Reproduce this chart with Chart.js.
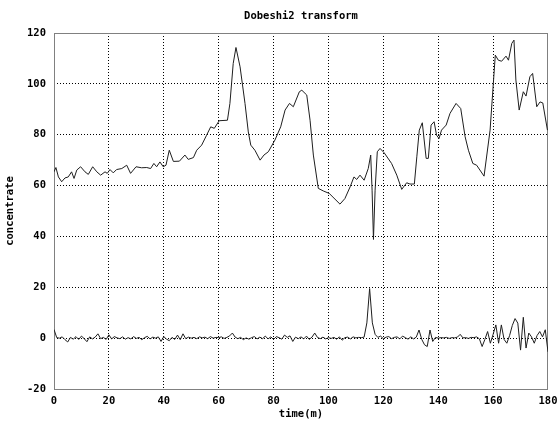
<!DOCTYPE html>
<html>
<head>
<meta charset="utf-8">
<script src="https://cdn.jsdelivr.net/npm/chart.js@4/dist/chart.umd.min.js"></script>
<style>
html, body { margin: 0; padding: 0; background: #fff; }
canvas { display: block; }
</style>
</head>
<body>
<canvas id="grafico" width="560" height="425"></canvas>
<script>
// Señal transformada (tiempo en minutos, concentración)
const tiempos = [
  0, 0.7, 1.6, 2.8, 4, 5.2, 6.4, 7.3, 8.3, 9.7, 11.3, 12.5, 14.1, 15.6, 17, 18.6, 19.4,
  20.4, 21.6, 22.8, 24.7, 26.5, 27.9, 29.9, 31.9, 33.8, 35.2, 36.4, 37.4, 38.6, 39.8,
  40.8, 42, 43.5, 45.7, 47.7, 48.9, 50.8, 52, 53.8, 55.6, 57.1, 58.4, 60.2, 63.2, 64.1,
  65.3, 66.3, 67.8, 69.6, 70.8, 71.7, 73.2, 75.1, 76.5, 78.1, 80.5, 82.6, 84.2, 85.8,
  87.2, 89.4, 90.3, 92.1, 93.3, 94.5, 96.3, 98.1, 100.3, 104.2, 106, 107.9, 109.3,
  110.3, 111.5, 113, 114.5, 115.4, 115.9, 116.4, 117, 117.8, 118.8, 120.3, 123, 124.9,
  126.7, 128.5, 129.7, 131.3, 132.2, 133.1, 134.2, 135.6, 136.4, 137.4, 138.5, 139.4,
  140.3, 141.2, 142.9, 144.3, 146.5, 148.2, 149.8, 151, 152.6, 154, 156.7, 158.9,
  160.8, 161.9, 163.1, 164.7, 165.6, 166.8, 167.6, 168.3, 169.5, 171, 172, 173.4,
  174.4, 175.9, 177.1, 178.1, 179.8
];
const concentrado = [
  65.4, 67.1, 63.4, 61.5, 63, 63.4, 65.4, 62.8, 66.1, 67.4, 65.4, 64.4, 67.4, 65.4, 64.1, 65.4, 64.8,
  66.3, 65, 66.3, 66.7, 68, 64.8, 67.4, 67, 67.1, 66.7, 68.7, 67.4, 69.3, 67.4,
  68, 73.9, 69.5, 69.6, 72, 70.3, 71, 73.9, 75.9, 79.8, 83.1, 82.5, 85.5, 85.7, 92.3,
  108, 114.3, 106.7, 92.3, 81.1, 75.9, 73.9, 70, 72, 73.3, 77.9, 83.1, 89.7, 92.3,
  91, 96.9, 97.5, 95.6, 85.7, 72, 58.9, 57.9, 56.9, 52.7, 54.9, 59.5, 63.4,
  62.4, 64.1, 62.1, 66.7, 72, 58.2, 38.8, 58.2, 73.3, 74.6, 72.9, 68.7, 64.1,
  58.5, 61.1, 60.6, 60.6, 71.3, 81.8, 84.7, 70.7, 70.7, 83.8, 85.1, 79.8,
  78.5, 81.8, 83.8, 88.4, 92.3, 90.3, 79.2, 73.9, 68.7, 68, 63.7, 81.8,
  111.3, 109.3, 108.9, 110.9, 109.3, 115.9, 117.2, 101.5, 89.7, 96.9, 95.2, 102.8,
  104.1, 91, 92.9, 92.5, 81.8
];
// Coeficientes de detalle, uno por minuto (0..180)
const ruido = [
  3.4, 0.2, 0, 0.5, -0.6, -1.5, 0.3, -0.4, 0.6, -0.5,
  0.8, -0.2, -1.4, 0.5, -0.3, 0.4, 1.7, -0.2, 0.3, -0.5,
  1.3, -0.3, 0.6, 0.1, -0.2, 0.5, -0.4, 0.2, -0.3, 0.6,
  -0.1, 0.3, -0.6, 0.2, 0.7, -0.3, 0.4, 0, 0.5, -1.3,
  0.6, -0.4, -1, 0.3, -0.5, 1.2, -0.6, 1.7, -0.2, 0.4,
  0, 0.3, -0.2, 0.5, 0.1, 0.4, -0.2, 0.6, 0, 0.3,
  0.2, 0.5, -0.1, 0.3, 0.9, 2, 0.4, -0.2, 0.3, -0.6,
  0.1, -0.4, 0.2, 0.6, -0.3, 0.4, -0.2, 0.8, -0.3, 0.5,
  -0.5, 0.6, 0.2, -0.4, 1.2, 0.3, 0.9, -1.3, 0.4, -0.2,
  0.5, -0.3, 0.8, -0.5, 0.4, 2, 0.3, -0.2, 0.4, -0.3,
  0.2, -0.1, 0.3, -0.4, 0.5, -0.8, 0.2, 0.4, -0.3, 0.5,
  0.1, 0.3, 0.2, 0.4, 6, 19.5, 6, 1.5, 0.3, 0.8,
  -0.2, 0.4, 0.6, -0.2, 0.3, 0.5, -0.3, 0.8, 0.2, -0.4,
  0.5, -0.3, 0.4, 3.2, -0.5, -2.6, -3.3, 3.2, -1.3, 0.3,
  0, 0.2, 0.1, 0.3, -0.1, 0.2, 0.1, 0.4, 1.5, 0.1,
  0.2, -0.1, 0.3, 0.2, 0.5, -0.3, -3.3, -0.5, 2.6, -2,
  1.5, 5.2, -2, 5.2, -0.5, -2, 1, 5, 7.7, 5.9,
  -4.7, 8.2, -3.9, 2, 0.5, -2, 1, 2.6, 0.5, 3.3,
  -5.4
];
const ticksX = [0, 20, 40, 60, 80, 100, 120, 140, 160, 180];
const ticksY = [-20, 0, 20, 40, 60, 80, 100, 120];

Chart.defaults.font.family = "'DejaVu Sans Mono', monospace";
Chart.defaults.font.size = 10.5;
Chart.defaults.font.weight = 'bold';
Chart.defaults.color = '#000';

// Marco gris alrededor del área de datos
const marco = {
  id: 'marco',
  beforeDatasetsDraw(chart) {
    const { ctx, chartArea: a } = chart;
    ctx.save();
    ctx.strokeStyle = '#808080';
    ctx.lineWidth = 1;
    ctx.strokeRect(Math.round(a.left) + 0.5, Math.round(a.top) + 0.5,
      Math.round(a.right - a.left) - 1, Math.round(a.bottom - a.top));
    ctx.restore();
  }
};

// rejilla punteada, sin líneas en los extremos (ahí va el marco)
const rejilla = {
  color: (c) => (c.index === 0 || c.index === c.scale.ticks.length - 1) ? 'rgba(0,0,0,0)' : '#000',
  lineWidth: 1,
  drawTicks: false
};
const borde = { display: false, dash: [1, 2] };

const ctx = document.getElementById('grafico').getContext('2d');
new Chart(ctx, {
  type: 'line',
  data: {
    datasets: [
      {
        data: tiempos.map((t, i) => ({ x: t, y: concentrado[i] })),
        borderColor: '#1e1e1e',
        borderWidth: 1,
        pointRadius: 0,
        tension: 0
      },
      {
        data: ruido.map((v, i) => ({ x: i, y: v })),
        borderColor: '#1e1e1e',
        borderWidth: 1,
        pointRadius: 0,
        tension: 0
      }
    ]
  },
  options: {
    responsive: false,
    animation: false,
    layout: { padding: { left: 0, right: 12, top: 0, bottom: 0 } },
    plugins: {
      legend: { display: false },
      tooltip: { enabled: false },
      title: {
        display: true,
        text: 'Dobeshi2 transform',
        fullSize: false,
        color: '#000',
        font: { size: 10.5, weight: 'bold' },
        padding: { top: 10, bottom: 10.4 }
      }
    },
    scales: {
      x: {
        type: 'linear',
        min: 0,
        max: 180,
        afterBuildTicks: (s) => { s.ticks = ticksX.map(v => ({ value: v })); },
        afterFit: (s) => { s.height = 36; s.paddingLeft = 0; s.paddingRight = 0; },
        ticks: { padding: 6, maxRotation: 0, autoSkip: false },
        grid: rejilla,
        border: borde,
        title: { display: true, text: 'time(m)', padding: { top: 0, bottom: 4 } }
      },
      y: {
        min: -20,
        max: 120,
        afterBuildTicks: (s) => { s.ticks = ticksY.map(v => ({ value: v })); },
        afterFit: (s) => { s.width = 54; s.paddingTop = 0; s.paddingBottom = 0; },
        ticks: { padding: 8 },
        grid: rejilla,
        border: borde,
        title: { display: true, text: 'concentrate', padding: { top: 4, bottom: 0 } }
      }
    }
  },
  plugins: [marco]
});
</script>
</body>
</html>
